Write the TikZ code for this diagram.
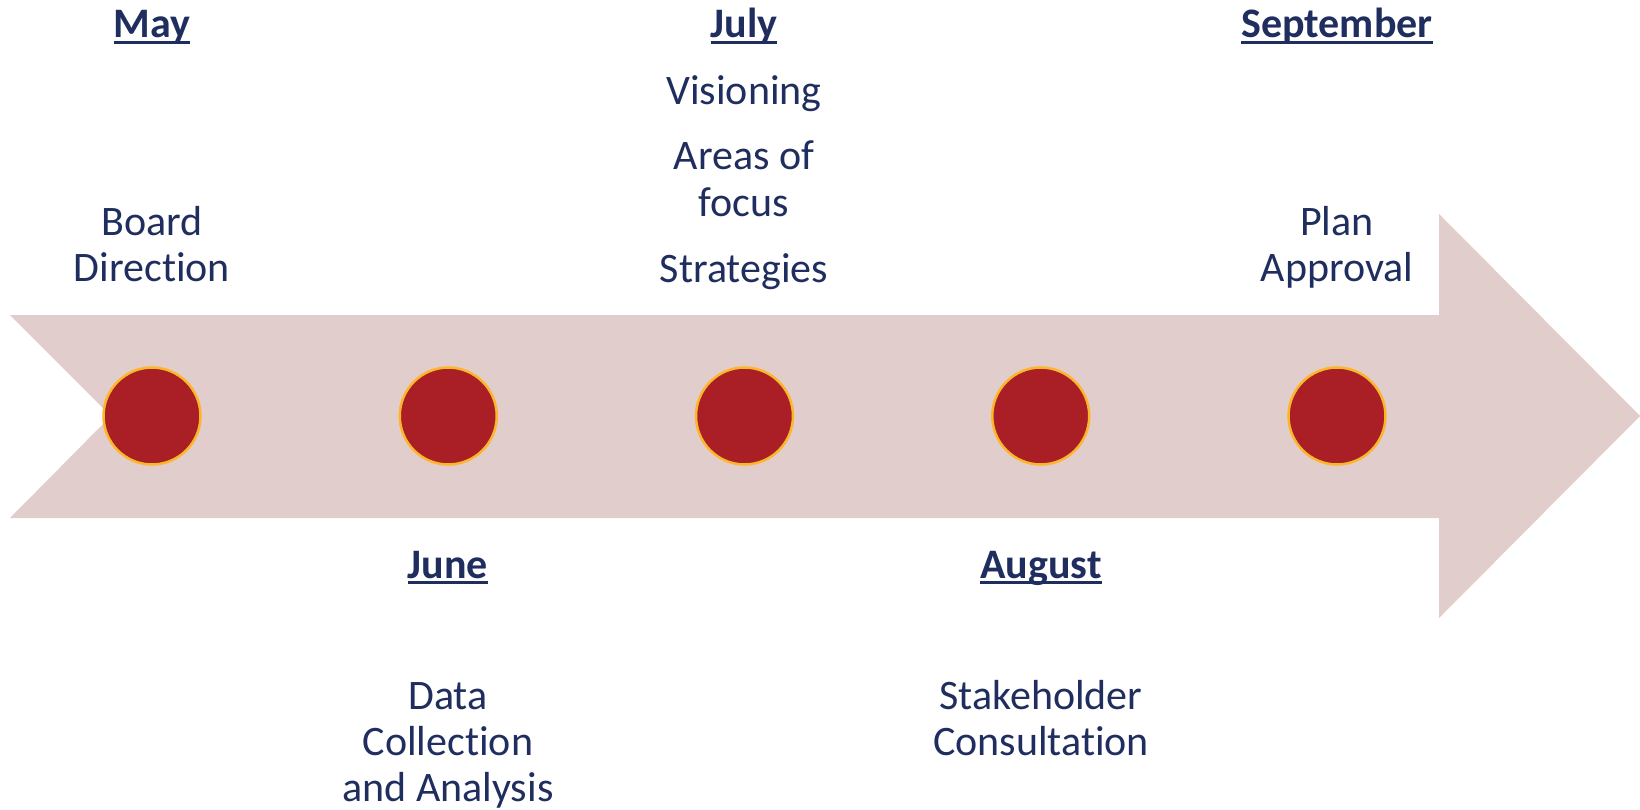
\documentclass[tikz,border=0pt]{standalone}
\usepackage{fontspec}
\setmainfont{Carlito}[Ligatures=NoCommon]
\usetikzlibrary{positioning}

\definecolor{navy}{HTML}{1F2E5E}
\definecolor{arrowpink}{HTML}{E2CDCD}
\definecolor{dotred}{HTML}{AA1F26}
\definecolor{dotrim}{HTML}{FBB72C}

% bold month name with a flat underline just below the baseline
\newcommand{\monthname}[1]{\setbox0\hbox{\bfseries #1}\rlap{\rule[-6pt]{\wd0}{3pt}}\box0}

\begin{document}
\begin{tikzpicture}[x=1pt, y=-1pt,
    every node/.style={text=navy, inner sep=0pt, font=\fontsize{42}{46}\selectfont},
    month/.style={anchor=base},
    task/.style={anchor=base, align=center}, % base = last line
    dot/.style={circle, fill=dotred, draw=dotrim, line width=2.5pt, minimum size=97pt}]
  \useasboundingbox (0,0) rectangle (1640,810);

  % Define timeline dimensions
  \def\midline{416}
  \def\shafttop{315}
  \def\shaftbot{518}
  \def\headx{1439}

  % Big pale arrow with notched tail
  \fill[arrowpink] (10,\shafttop) -- (\headx,\shafttop) -- (\headx,214) -- (1640,\midline)
    -- (\headx,618) -- (\headx,\shaftbot) -- (10,\shaftbot) -- (111,\midline) -- cycle;

  % Five milestone dots, one per month
  \foreach \i in {1,...,5} {
    \node[dot] (m\i) at (152+296.25*\i-296.25, \midline) {};
  }

  % Months above the arrow
  \node[month] (may) at (152,38) {\monthname{May}};
  \node[task] (board) at (152,281) {Board\\Direction};
  \node[month] (july) at (744,38) {\monthname{July}};
  \node[task] (vision) at (744,282) {Visioning\\[19pt]Areas of\\focus\\[20pt]Strategies};
  \node[month] (sept) at (1337,38) {\monthname{September}};
  \node[task] (plan) at (1337,281) {Plan\\Approval};

  % Months below the arrow
  \node[month] (june) at (448,578) {\monthname{June}};
  \node[task] (data) at (448,801) {Data\\Collection\\and Analysis};
  \node[month] (aug) at (1041,578) {\monthname{August}};
  \node[task] (stake) at (1041,755) {Stakeholder\\Consultation};
\end{tikzpicture}
\end{document}
